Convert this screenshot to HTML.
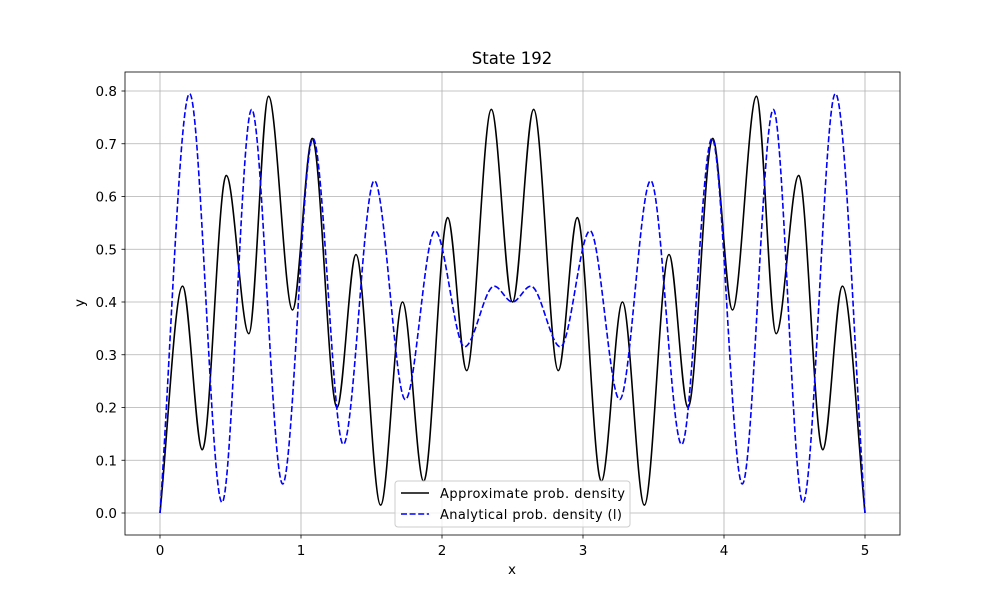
<!DOCTYPE html>
<html><head><meta charset="utf-8"><style>
body{margin:0;background:#fff;font-family:"Liberation Sans",sans-serif}
svg text{font-family:"DejaVu Sans","Liberation Sans",sans-serif}
</style></head><body>
<svg id="c" width="1000" height="600"></svg>
<script>
const approxX=[0,0.16,0.30,0.47,0.63,0.77,0.94,1.08,1.255,1.39,1.565,1.72,1.87,2.04,2.175,2.35,2.5];
const approxY=[0,0.43,0.12,0.64,0.34,0.79,0.385,0.71,0.20,0.49,0.015,0.40,0.06,0.56,0.27,0.765,0.40];
const anaX=[0,0.21,0.44,0.65,0.87,1.085,1.30,1.52,1.74,1.95,2.16,2.37,2.5];
const anaY=[0,0.795,0.02,0.765,0.055,0.71,0.13,0.63,0.215,0.535,0.315,0.43,0.40];
const xTicks=[0,1,2,3,4,5];
const yTicks=[0,0.1,0.2,0.3,0.4,0.5,0.6,0.7,0.8];
const NS="http://www.w3.org/2000/svg";
const svg=document.getElementById('c');
const L=125,R=900,T=72,B=535;
const sx=v=>160+v*141, sy=v=>513-v*527.5;
function mk(t,a,p){const e=document.createElementNS(NS,t);for(const k in a)e.setAttribute(k,a[k]);(p||svg).appendChild(e);return e;}
function mirror(xs,ys){const X=xs.slice(),Y=ys.slice();for(let i=xs.length-2;i>=0;i--){X.push(5-xs[i]);Y.push(ys[i]);}return [X,Y];}
function monoPath(xs,ys){
 const n=xs.length,d=[],m=[];
 for(let i=0;i<n-1;i++)d.push((ys[i+1]-ys[i])/(xs[i+1]-xs[i]));
 for(let i=0;i<n;i++){ if(i==0)m.push(d[0]);else if(i==n-1)m.push(d[n-2]);else m.push(d[i-1]*d[i]<=0?0:(d[i-1]+d[i])/2);}
 let s='M'+sx(xs[0])+','+sy(ys[0]);
 for(let i=0;i<n-1;i++){const h=xs[i+1]-xs[i];
  s+=' C'+sx(xs[i]+h/3)+','+sy(ys[i]+m[i]*h/3)+' '+sx(xs[i+1]-h/3)+','+sy(ys[i+1]-m[i+1]*h/3)+' '+sx(xs[i+1])+','+sy(ys[i+1]);}
 return s;}
xTicks.forEach(v=>{
 const g=mk('line',{x1:sx(v),x2:sx(v),y1:T,y2:B,stroke:'#b0b0b0','stroke-width':0.8});
 
 mk('line',{x1:sx(v),x2:sx(v),y1:B,y2:B+3.5,stroke:'#000','stroke-width':0.8});
 const t=mk('text',{x:sx(v),y:B+20,'font-size':13.5,'text-anchor':'middle'});t.textContent=v;
 
});
yTicks.forEach(v=>{
 const g=mk('line',{x1:L,x2:R,y1:sy(v),y2:sy(v),stroke:'#b0b0b0','stroke-width':0.8});
 
 mk('line',{x1:L-3.5,x2:L,y1:sy(v),y2:sy(v),stroke:'#000','stroke-width':0.8});
 const t=mk('text',{x:L-8,y:sy(v)+5,'font-size':13.5,'text-anchor':'end'});t.textContent=v.toFixed(1);
 
});
const a=mirror(approxX,approxY),b=mirror(anaX,anaY);
const p1=mk('path',{d:monoPath(a[0],a[1]),fill:'none',stroke:'#000','stroke-width':1.6});

const p2=mk('path',{d:monoPath(b[0],b[1]),fill:'none',stroke:'#0000ff','stroke-width':1.6,'stroke-dasharray':'6,2.6'});

const fr=mk('rect',{x:L,y:T,width:R-L,height:B-T,fill:'none',stroke:'#000','stroke-width':0.8});

const ti=mk('text',{x:512,y:64,'font-size':16.5,'text-anchor':'middle'});ti.textContent='State 192';

const xl=mk('text',{x:512,y:574,'font-size':13.5,'text-anchor':'middle'});xl.textContent='x';

const yl=mk('text',{x:84,y:303,'font-size':13.5,'text-anchor':'middle',transform:'rotate(-90 84 303)'});yl.textContent='y';

const lg=mk('g',{});
mk('rect',{x:395,y:481,width:235,height:46,rx:3,fill:'#fff','fill-opacity':0.8,stroke:'#ccc'},lg);
mk('line',{x1:401,x2:429,y1:493,y2:493,stroke:'#000','stroke-width':1.6},lg);
mk('line',{x1:401,x2:429,y1:514,y2:514,stroke:'#0000ff','stroke-width':1.6,'stroke-dasharray':'6,2.6'},lg);
const l1=mk('text',{x:440,y:498,'font-size':13,'textLength':185},lg);l1.textContent='Approximate prob. density';

const l2=mk('text',{x:440,y:519,'font-size':13,'textLength':182},lg);l2.textContent='Analytical prob. density (l)';

</script>
</body></html>
